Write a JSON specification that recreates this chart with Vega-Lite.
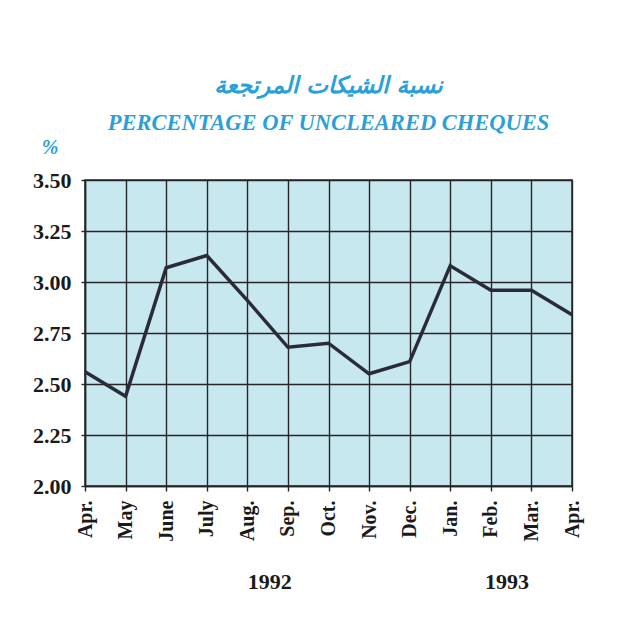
{
  "$schema": "https://vega.github.io/schema/vega-lite/v6.json",
  "autosize": "none",
  "width": 487,
  "height": 306,
  "padding": {"left": 85, "top": 180, "right": 49, "bottom": 145},
  "background": "white",
  "title": {
    "text": "نسبة الشيكات المرتجعة",
    "subtitle": "PERCENTAGE OF UNCLEARED CHEQUES",
    "font": "DejaVu Sans",
    "fontSize": 23,
    "fontWeight": "bold",
    "fontStyle": "italic",
    "color": "#2b9fd8",
    "subtitleFont": "Liberation Serif",
    "subtitleFontSize": 22.5,
    "subtitleFontWeight": "bold",
    "subtitleFontStyle": "italic",
    "subtitleColor": "#2b9fd8",
    "subtitlePadding": 14,
    "anchor": "middle",
    "offset": 3
  },
  "config": {
    "view": {"fill": "#c8e8ef", "stroke": "#2a2a2a", "strokeWidth": 1.5},
    "axis": {
      "labelFont": "Liberation Serif",
      "labelFontWeight": "bold",
      "labelColor": "#1a1a1a",
      "gridColor": "#262626",
      "gridOpacity": 1,
      "gridWidth": 1.4,
      "domainColor": "#262626",
      "domainWidth": 1.5,
      "tickColor": "#262626",
      "tickWidth": 1.4
    }
  },
  "datasets": {
    "series": [
      {"idx": 0, "month": "Apr.", "year": 1992, "pct": 2.56},
      {"idx": 1, "month": "May", "year": 1992, "pct": 2.44},
      {"idx": 2, "month": "June", "year": 1992, "pct": 3.07},
      {"idx": 3, "month": "July", "year": 1992, "pct": 3.13},
      {"idx": 4, "month": "Aug.", "year": 1992, "pct": 2.91},
      {"idx": 5, "month": "Sep.", "year": 1992, "pct": 2.68},
      {"idx": 6, "month": "Oct.", "year": 1992, "pct": 2.70},
      {"idx": 7, "month": "Nov.", "year": 1992, "pct": 2.55},
      {"idx": 8, "month": "Dec.", "year": 1992, "pct": 2.61},
      {"idx": 9, "month": "Jan.", "year": 1993, "pct": 3.08},
      {"idx": 10, "month": "Feb.", "year": 1993, "pct": 2.96},
      {"idx": 11, "month": "Mar.", "year": 1993, "pct": 2.96},
      {"idx": 12, "month": "Apr.", "year": 1993, "pct": 2.84}
    ],
    "years": [
      {"idx": 4.55, "label": "1992"},
      {"idx": 10.4, "label": "1993"}
    ]
  },
  "layer": [
    {
      "data": {"name": "series"},
      "mark": {"type": "line", "color": "#2b2b38", "strokeWidth": 3.5, "strokeJoin": "miter", "clip": false},
      "encoding": {
        "x": {
          "field": "idx",
          "type": "quantitative",
          "scale": {"domain": [0, 12], "nice": false, "zero": false},
          "axis": {
            "values": [0,1,2,3,4,5,6,7,8,9,10,11,12],
            "labelExpr": "['Apr.','May','June','July','Aug.','Sep.','Oct.','Nov.','Dec.','Jan.','Feb.','Mar.','Apr.'][datum.value]",
            "labelAngle": -90,
            "labelAlign": "right",
            "labelBaseline": "middle",
            "labelFontSize": 20,
            "labelPadding": 9,
            "tickSize": 5,
            "title": null
          }
        },
        "y": {
          "field": "pct",
          "type": "quantitative",
          "scale": {"domain": [2, 3.5], "nice": false, "zero": false},
          "axis": {
            "values": [2, 2.25, 2.5, 2.75, 3, 3.25, 3.5],
            "format": ".2f",
            "labelFontSize": 22,
            "labelPadding": 10,
            "tickSize": 4,
            "title": "%",
            "titleAngle": 0,
            "titleFont": "Liberation Serif",
            "titleFontStyle": "italic",
            "titleFontWeight": "bold",
            "titleFontSize": 20,
            "titleColor": "#2b9fd8",
            "titleX": -27,
            "titleY": -23,
            "titleAlign": "right"
          }
        }
      }
    },
    {
      "data": {"name": "years"},
      "mark": {"type": "text", "font": "Liberation Serif", "fontWeight": "bold", "fontSize": 22, "color": "#1a1a1a", "clip": false},
      "encoding": {
        "x": {"field": "idx", "type": "quantitative"},
        "y": {"datum": 1.53},
        "text": {"field": "label"}
      }
    }
  ]
}
